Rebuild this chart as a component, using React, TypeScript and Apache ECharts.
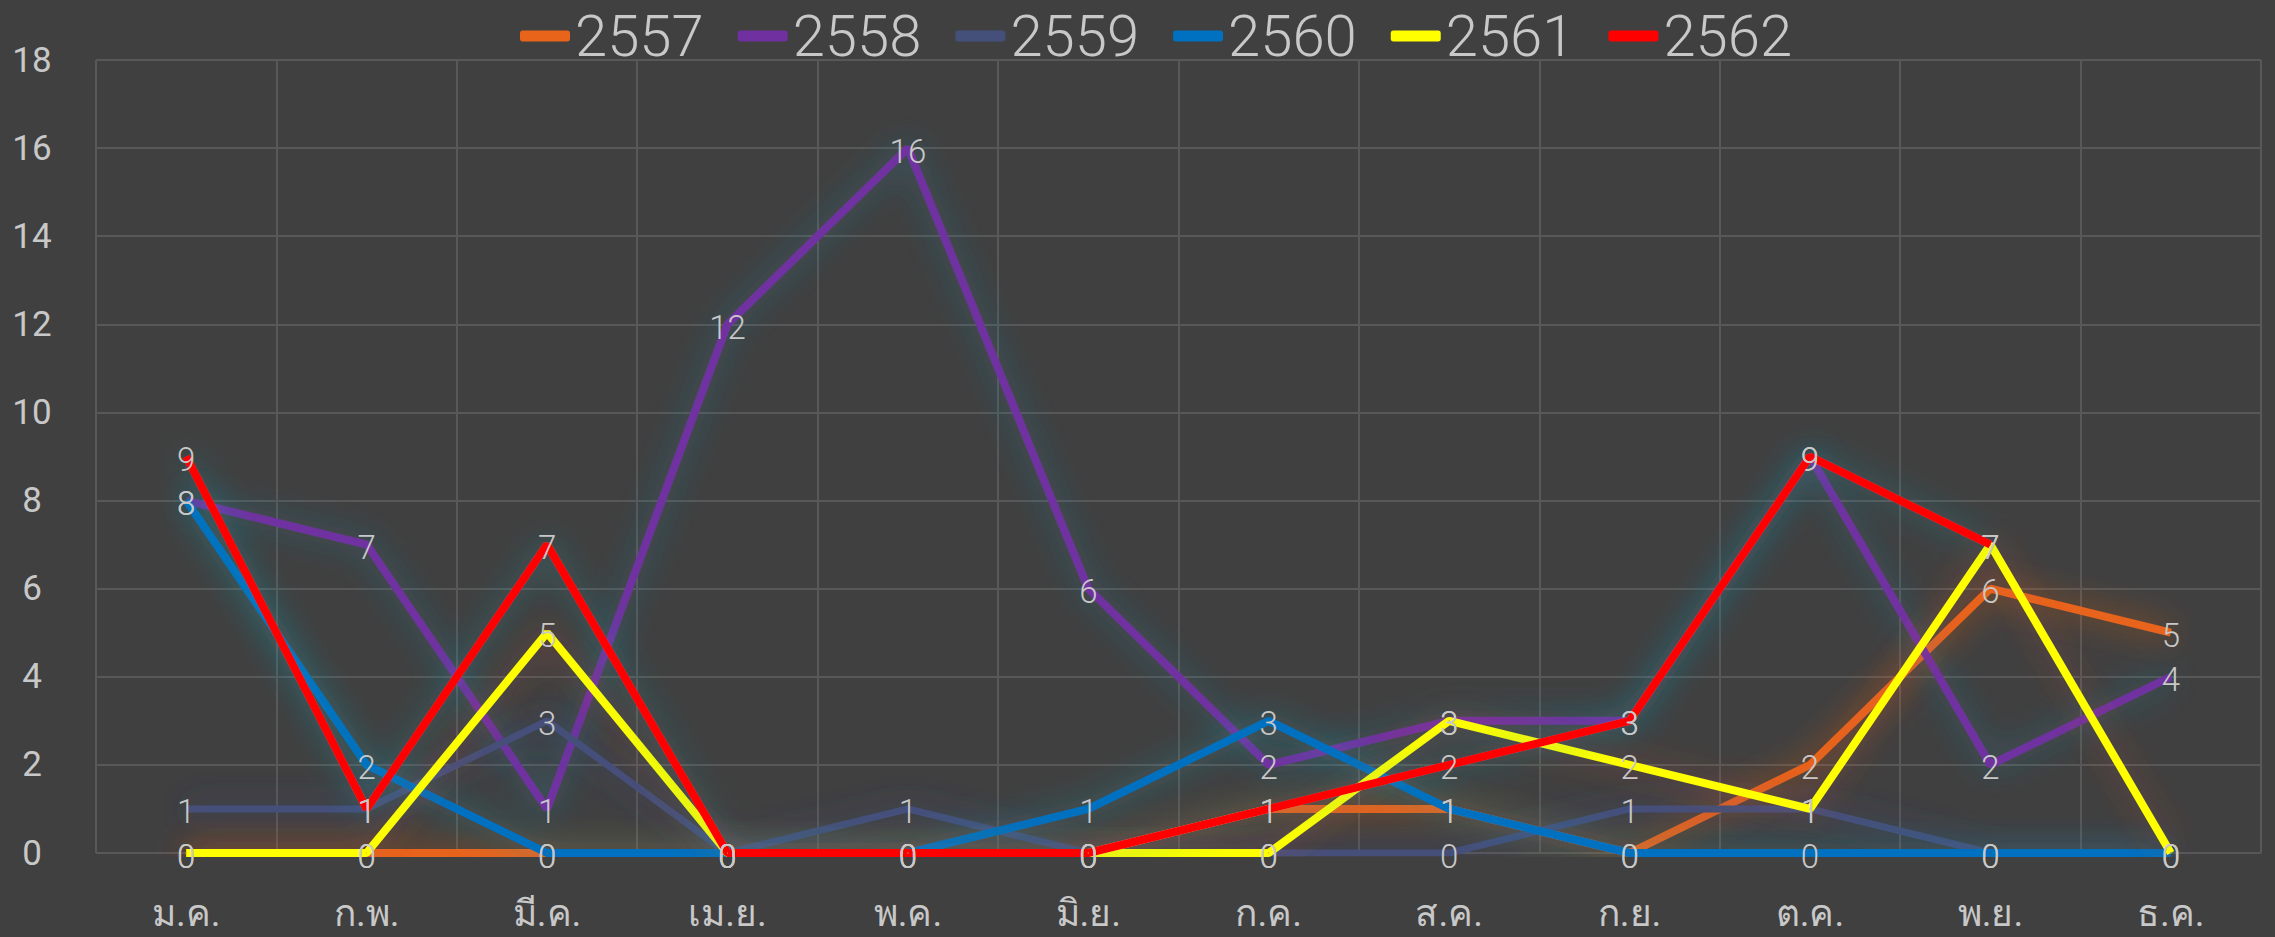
import React, { useEffect, useRef } from "react";
import * as echarts from "echarts";

const months = ["ม.ค.", "ก.พ.", "มี.ค.", "เม.ย.", "พ.ค.", "มิ.ย.", "ก.ค.", "ส.ค.", "ก.ย.", "ต.ค.", "พ.ย.", "ธ.ค."];
const years = ["2557", "2558", "2559", "2560", "2561", "2562"];
const v2557 = [0, 0, 0, 0, 0, 0, 1, 1, 0, 2, 6, 5];
const v2558 = [8, 7, 1, 12, 16, 6, 2, 3, 3, 9, 2, 4];
const v2559 = [1, 1, 3, 0, 1, 0, 0, 0, 1, 1, 0, 0];
const v2560 = [8, 2, 0, 0, 0, 1, 3, 1, 0, 0, 0, 0];
const v2561 = [0, 0, 5, 0, 0, 0, 0, 3, 2, 1, 7, 0];
const v2562 = [9, 1, 7, 0, 0, 0, 1, 2, 3, 9, 7, null];
const yTicks = { min: 0, max: 18, interval: 2 };

const colors = ["#E8641B", "#7030A0", "#44507A", "#0070C0", "#FFFF00", "#FF0000"];
const glows = [
  "rgba(232,100,27,0.7)",
  "rgba(40,130,170,0.6)",
  "rgba(60,70,140,0.6)",
  "rgba(40,160,180,0.6)",
  "rgba(210,80,50,0.45)",
  "rgba(40,150,170,0.55)",
];
const values = [v2557, v2558, v2559, v2560, v2561, v2562];

const FONT = "Roboto, 'Noto Sans', 'DejaVu Sans', sans-serif";

export default function App() {
  const ref = useRef<HTMLDivElement>(null);
  useEffect(() => {
    if (!ref.current) return;
    const chart = echarts.init(ref.current, null, { renderer: "svg" });
    chart.setOption({
      animation: false,
      backgroundColor: "#404040",
      textStyle: { fontFamily: FONT },
      legend: {
        top: 2,
        left: 515,
        icon: "roundRect",
        itemWidth: 50,
        itemHeight: 11,
        itemGap: 34,
        textStyle: { color: "#C8C8C8", fontSize: 58, fontWeight: 300, fontFamily: FONT },
        data: years,
      },
      grid: { left: 96, right: 14, top: 60, bottom: 84 },
      xAxis: {
        type: "category",
        data: months,
        boundaryGap: true,
        axisLine: { show: false },
        axisTick: { show: false },
        splitLine: { show: true, lineStyle: { color: "#585858", width: 2 } },
        axisLabel: { color: "#C8C8C8", fontSize: 37, margin: 42, fontFamily: FONT },
      },
      yAxis: {
        type: "value",
        min: yTicks.min,
        max: yTicks.max,
        interval: yTicks.interval,
        axisLine: { show: false },
        axisTick: { show: false },
        splitLine: { show: true, lineStyle: { color: "#585858", width: 2 } },
        axisLabel: { color: "#C8C8C8", fontSize: 35, margin: 64, align: "center", fontFamily: FONT },
      },
      series: years.map((y, i) => ({
        name: y,
        type: "line",
        data: values[i],
        symbol: "circle",
        symbolSize: 1,
        color: colors[i],
        lineStyle: {
          color: colors[i],
          width: i === 2 ? 7 : 8,
          shadowColor: glows[i],
          shadowBlur: 32,
        },
        itemStyle: { color: colors[i] },
        label: {
          show: true,
          position: "inside",
          offset: [0, 3],
          color: "#C8C8C8",
          fontSize: 33,
          fontWeight: 300,
          fontFamily: FONT,
        },
      })),
    });
    return () => chart.dispose();
  }, []);
  return <div ref={ref} style={{ position: "fixed", left: 0, top: 0, width: 2275, height: 937 }} />;
}
